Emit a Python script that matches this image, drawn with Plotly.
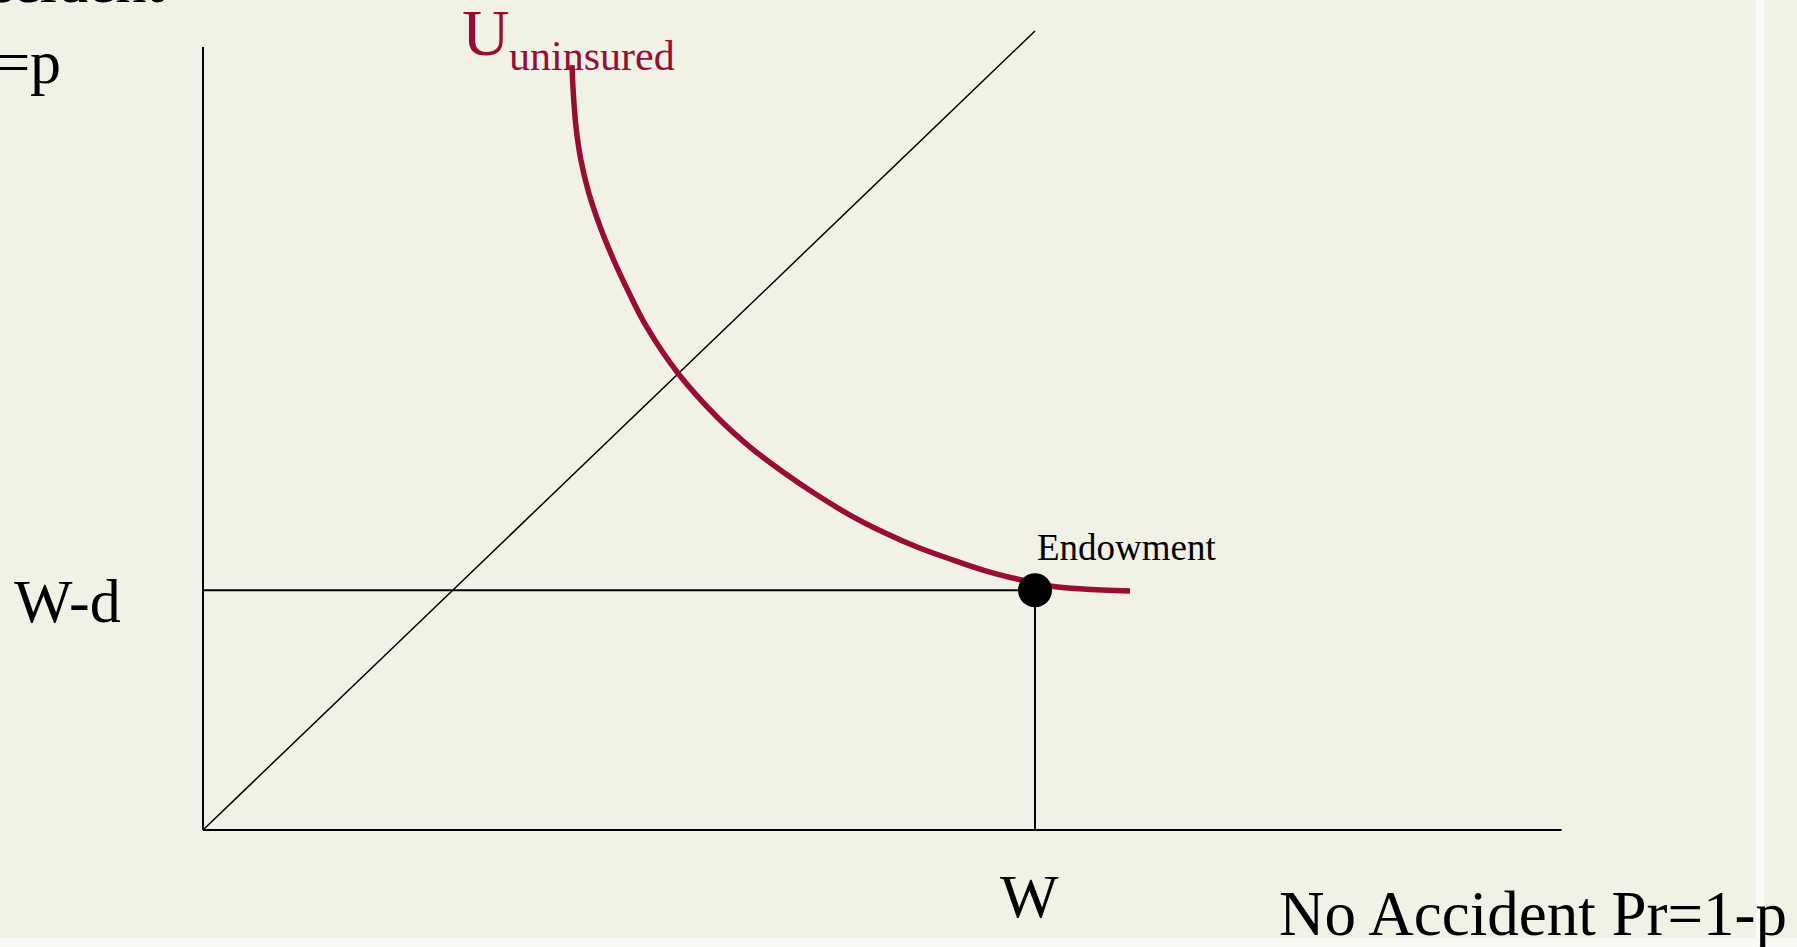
import plotly.graph_objects as go

# ---- data ----
W = 100.0          # wealth with no accident
W_minus_d = 30.0   # wealth after accident
certainty_x = [0, 100]
certainty_y = [0, 100]
axis_x_max = 163.3
axis_y_max = 98.0
curve_x = [44.35, 44.51, 44.83, 45.42, 46.38, 47.73, 49.36, 51.23, 53.31, 57.09, 61.78,
           65.75, 69.71, 73.80, 77.76, 81.73, 85.82, 89.78, 93.75, 97.84, 101.80, 105.77, 111.42]
curve_y = [95.74, 92.20, 88.02, 83.85, 79.69, 75.51, 71.34, 67.17, 62.99, 57.16, 51.69,
           47.93, 44.81, 41.93, 39.42, 37.30, 35.42, 33.92, 32.54, 31.41, 30.54, 30.16, 29.91]

BG = "#F2F1E6"
RED = "#980D33"
FONT = "Liberation Serif, Times New Roman, serif"

fig = go.Figure()

# axes
fig.add_trace(go.Scatter(x=[0, 0], y=[0, axis_y_max], mode="lines",
                         line=dict(color="black", width=2), hoverinfo="skip"))
fig.add_trace(go.Scatter(x=[0, axis_x_max], y=[0, 0], mode="lines",
                         line=dict(color="black", width=2), hoverinfo="skip"))
# certainty line
fig.add_trace(go.Scatter(x=certainty_x, y=certainty_y, mode="lines",
                         line=dict(color="black", width=1.5), hoverinfo="skip"))
# endowment guides
fig.add_trace(go.Scatter(x=[0, W], y=[W_minus_d, W_minus_d], mode="lines",
                         line=dict(color="black", width=2), hoverinfo="skip"))
fig.add_trace(go.Scatter(x=[W, W], y=[0, W_minus_d], mode="lines",
                         line=dict(color="black", width=2), hoverinfo="skip"))
# indifference curve
fig.add_trace(go.Scatter(x=curve_x, y=curve_y, mode="lines", line_shape="spline",
                         line=dict(color=RED, width=5.5, smoothing=1.0), hoverinfo="skip"))
# endowment point
fig.add_trace(go.Scatter(x=[W], y=[W_minus_d], mode="markers",
                         marker=dict(color="black", size=34), hoverinfo="skip"))

ann = []
ann.append(dict(x=-22.96, y=28.6, xref="x", yref="y", text="W-d", showarrow=False,
                xanchor="left", yanchor="middle", font=dict(family=FONT, size=62, color="black")))
ann.append(dict(x=W, y=-8.3, xref="x", yref="y", text="W", showarrow=False, xshift=-6,
                xanchor="center", yanchor="middle", font=dict(family=FONT, size=62, color="black")))
ann.append(dict(x=190.6, y=-10.5, xref="x", yref="y", text="No Accident Pr=1-p", showarrow=False,
                xanchor="right", yanchor="middle", font=dict(family=FONT, size=63, color="black")))
ann.append(dict(x=W, y=35.4, xref="x", yref="y", text="Endowment", showarrow=False,
                xanchor="left", yanchor="middle", font=dict(family=FONT, size=37, color="black")))
ann.append(dict(x=30.9, y=99.8, xref="x", yref="y", text="U", showarrow=False,
                xanchor="left", yanchor="middle", font=dict(family=FONT, size=66, color=RED)))
ann.append(dict(x=36.5, y=96.9, xref="x", yref="y", text="uninsured", showarrow=False,
                xanchor="left", yanchor="middle", font=dict(family=FONT, size=42, color=RED)))
ann.append(dict(x=-62 / 1797, y=1 - 21.5 / 947, xref="paper", yref="paper",
                text="Accident<br>Pr=p", showarrow=False, align="left",
                xanchor="left", yanchor="middle", font=dict(family=FONT, size=62, color="black")))

shapes = [
    dict(type="rect", xref="paper", yref="paper", x0=1756 / 1797, x1=1764 / 1797, y0=0, y1=1,
         fillcolor="#FAFAF6", line=dict(width=0), layer="below"),
    dict(type="rect", xref="paper", yref="paper", x0=0, x1=1, y0=0, y1=9 / 947,
         fillcolor="#F8F8F4", line=dict(width=0), layer="below"),
]

fig.update_layout(
    width=1797, height=947,
    margin=dict(l=0, r=0, t=0, b=0),
    paper_bgcolor=BG, plot_bgcolor=BG,
    showlegend=False,
    annotations=ann, shapes=shapes,
    xaxis=dict(range=[-203 / 8.32, (1797 - 203) / 8.32], visible=False, fixedrange=True),
    yaxis=dict(range=[-(947 - 830) / 7.99, 830 / 7.99], visible=False, fixedrange=True),
)

fig.write_html("out.html", config={"displayModeBar": False},
               post_script="document.body.style.margin='0';document.body.style.overflow='hidden';")
